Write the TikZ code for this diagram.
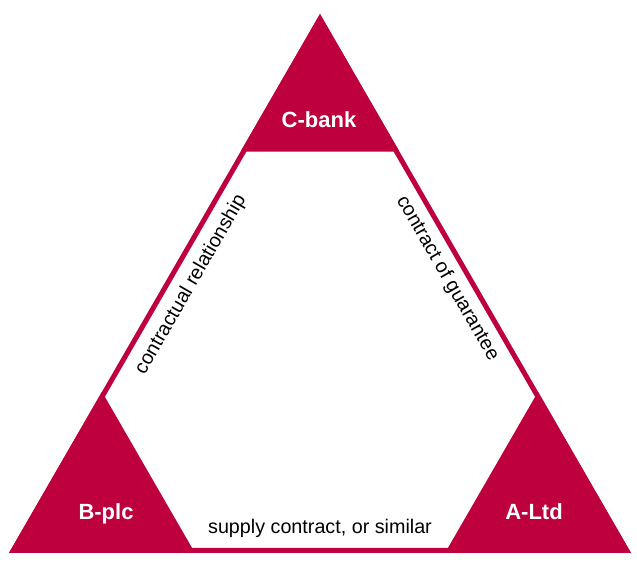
\documentclass[tikz,border=0pt]{standalone}
\usepackage{fontspec}
\setmainfont{Liberation Sans}
\usetikzlibrary{calc}

\definecolor{crimson}{RGB}{190,0,62}

\begin{document}
\begin{tikzpicture}[x=.75pt, y=-.75pt,
  edge/.style={draw=crimson, line width=3.75pt, line join=miter},
  corner/.style={fill=crimson},
  party/.style={text=white, anchor=base, inner sep=0pt, font=\fontsize{16.5}{20}\selectfont\bfseries},
  deal/.style={sloped, inner sep=0pt, font=\fontsize{14.8}{18}\selectfont}]
\useasboundingbox (0,0) rectangle (637,566);
% outer tips of the triangle
\coordinate (C) at (320,14);
\coordinate (B) at (9,553);
\coordinate (A) at (631,553);
% middle of the thick border
\coordinate (cC) at (320,19);
\coordinate (cB) at (13.3,550.5);
\coordinate (cA) at (626.7,550.5);

\fill[corner] (C) -- ($(C)!.2555!(B)$) -- ($(C)!.2555!(A)$) -- cycle;
\fill[corner] (B) -- ($(B)!.299!(C)$) -- ($(B)!.299!(A)$) -- cycle;
\fill[corner] (A) -- ($(A)!.299!(C)$) -- ($(A)!.299!(B)$) -- cycle;

\draw[edge] (cC) -- node[deal, below=7pt, pos=.48] (rel) {contractual relationship}
  (cB) -- node[deal, above=7.6pt] (supply) {supply contract, or similar}
  (cA) -- node[deal, below=5.7pt, pos=.53] (guar) {contract of guarantee} (cC) -- cycle;

\node[party] (cbank) at (319,128) {C-bank};
\node[party] (bplc) at (106,520) {B-plc};
\node[party] (altd) at (534,520) {A-Ltd};
\end{tikzpicture}
\end{document}
